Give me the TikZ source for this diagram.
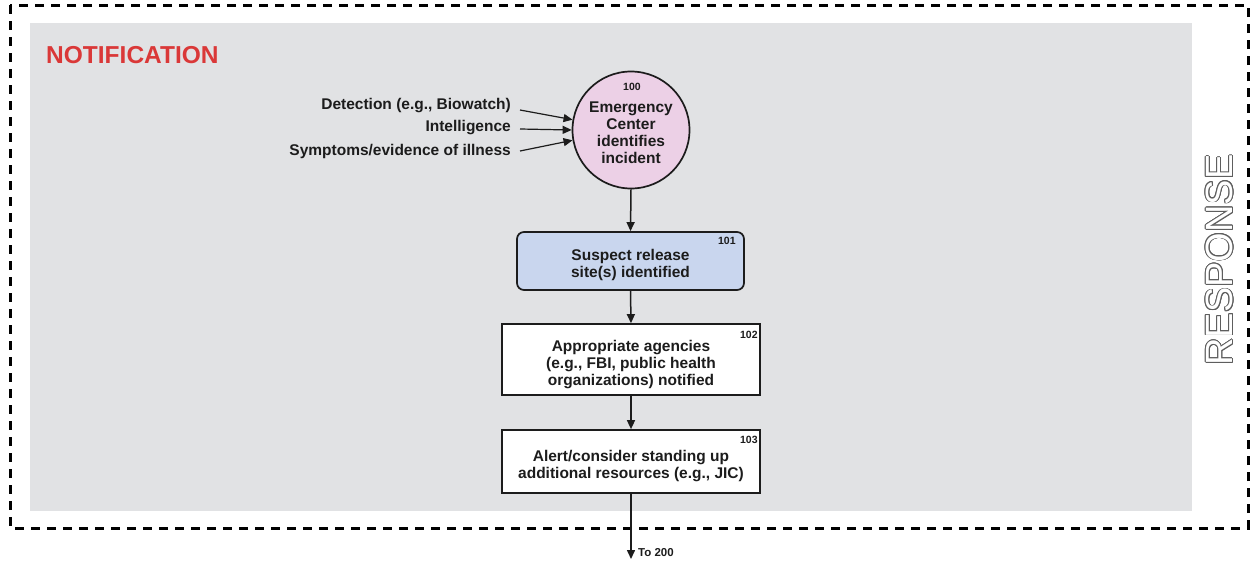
\documentclass[tikz,border=0pt]{standalone}
\usepackage{fontspec}
\setmainfont{Liberation Sans}
\usepackage[copies]{contour}
\usetikzlibrary{arrows.meta}

\definecolor{panelgray}{HTML}{E1E2E4}
\definecolor{inkline}{HTML}{1C1C1C}
\definecolor{titlered}{HTML}{DA3838}
\definecolor{circlepink}{HTML}{ECD0E6}
\definecolor{boxblue}{HTML}{C9D6EE}
\definecolor{outlinegray}{HTML}{5E5E5E}

\contourlength{0.8pt}

\tikzset{
  bodytext/.style={font=\fontsize{15.5}{17}\selectfont\bfseries, align=center, text=inkline, inner sep=0pt},
  stepbox/.style={draw=inkline, line width=1.7pt, fill=white, inner sep=0pt},
  idnum/.style={font=\fontsize{10.5}{12}\selectfont\bfseries, text=inkline, inner sep=0pt},
  flow/.style={draw=inkline, line width=1.5pt, -{Triangle[length=9pt,width=8pt]}},
  inputlbl/.style={font=\fontsize{15.5}{17}\selectfont\bfseries, text=inkline, anchor=east, inner sep=0pt},
}

\begin{document}
\begin{tikzpicture}[x=1pt,y=-1pt]
\useasboundingbox (0,0) rectangle (1251,560);

% grey section panel and dashed response frame
\fill[panelgray] (30,23) rectangle (1192,511);
\draw[line width=3pt, dash pattern=on 9pt off 7pt] (10,5) rectangle (1248,528);

% section title and side label
\node[anchor=west, font=\fontsize{24.5}{26}\selectfont\bfseries, text=titlered, inner sep=0pt] (title) at (46,55) {NOTIFICATION};
\node[rotate=90, font=\fontsize{38}{40}\selectfont, inner sep=0pt] (resp) at (1220,260)
  {\contour{outlinegray}{\textcolor{white}{RESPONSE}}};

% step 100: incident identified
\node[circle, draw=inkline, line width=1.7pt, fill=circlepink, minimum size=117pt, inner sep=0pt] (c100) at (631,130) {};
\node[bodytext] (t100) at (631,133) {Emergency\\Center\\identifies\\incident};
\node[idnum] (n100) at (632,87) {100};

% inputs to step 100
\node[inputlbl] (in1) at (511,106) {Detection (e.g., Biowatch)};
\node[inputlbl] (in2) at (511,128) {Intelligence};
\node[inputlbl] (in3) at (511,151) {Symptoms/evidence of illness};
\draw[flow, line width=1.2pt] ([xshift=9pt,yshift=-4pt]in1.east) -- (c100.170);
\draw[flow, line width=1.2pt] ([xshift=9pt,yshift=-1pt]in2.east) -- (c100.180);
\draw[flow, line width=1.2pt] ([xshift=9pt]in3.east) -- (c100.190);

% step 101
\node[stepbox, fill=boxblue, rounded corners=7pt, minimum width=227pt, minimum height=58pt] (b101) at (630.5,261) {};
\node[bodytext] (t101) at (630.5,265) {Suspect release\\site(s) identified};
\node[idnum, anchor=north east] (n101) at ([xshift=-9pt,yshift=-6pt]b101.north east) {101};

% step 102
\node[stepbox, minimum width=258pt, minimum height=71pt] (b102) at (631,359.5) {};
\node[bodytext] (t102) at (631,365) {Appropriate agencies\\(e.g., FBI, public health\\organizations) notified};
\node[idnum, anchor=north east] (n102) at ([xshift=-3pt,yshift=-8pt]b102.north east) {102};

% step 103
\node[stepbox, minimum width=258pt, minimum height=63pt] (b103) at (631,461.5) {};
\node[bodytext] (t103) at (631,466) {Alert/consider standing up\\additional resources (e.g., JIC)};
\node[idnum, anchor=north east] (n103) at ([xshift=-3pt,yshift=-7pt]b103.north east) {103};

% hand-off to the next section
\coordinate (next) at (631,559);
\node[idnum, anchor=west, font=\fontsize{11.5}{13}\selectfont\bfseries] (to200) at (638,553) {To 200};

% flow between steps
\draw[flow] (c100.south) -- (b101.north);
\draw[flow] (b101.south) -- (b102.north);
\draw[flow] (b102.south) -- (b103.north);
\draw[flow] (b103.south) -- (next);
\end{tikzpicture}
\end{document}
